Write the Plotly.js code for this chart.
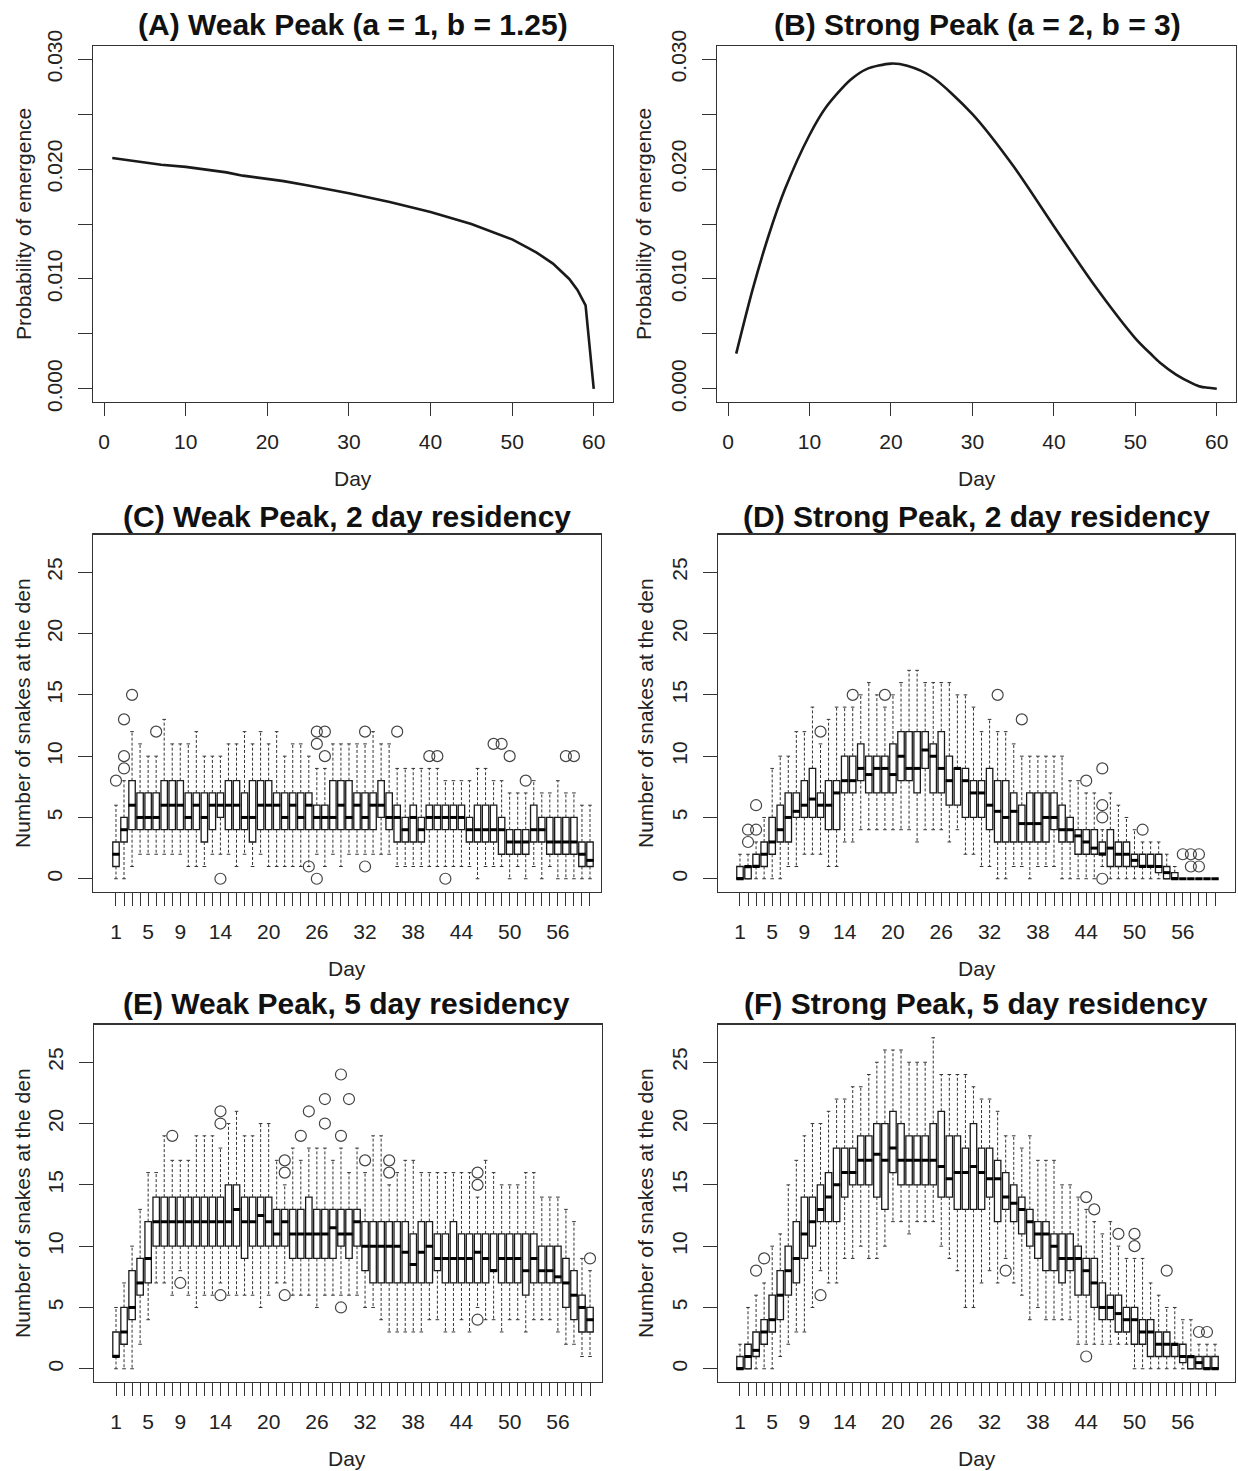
<!DOCTYPE html>
<html>
<head>
<meta charset="utf-8">
<script src="https://cdn.plot.ly/plotly-3.0.1.min.js"></script>
<style>html,body{margin:0;padding:0;background:#fff;}#chart{width:1238px;height:1471px;}</style>
</head>
<body>
<div id="chart"></div>
<script>
// ---------- Data ----------
const curveDays = [1,3,5,7,10,12,15,17,20,22,25,30,35,40,45,50,52,53,55,57,58,59,60];
const weakProb  = [0.0210,0.0208,0.0206,0.0204,0.0202,0.0200,0.0197,0.0194,0.0191,0.0189,0.0185,0.0178,0.0170,0.0161,0.0150,0.0136,0.0128,0.0124,0.0114,0.0100,0.0090,0.0076,0.0000];
const strongProb= [0.0032,0.0090,0.0140,0.0182,0.0231,0.0256,0.0281,0.0291,0.0296,0.0294,0.0284,0.0250,0.0203,0.0148,0.0094,0.0046,0.0031,0.0024,0.0013,0.0005,0.0002,0.0001,0.0000];

const days = [1,2,3,4,5,6,7,8,9,10,11,12,13,14,15,16,17,18,19,20,21,22,23,24,25,26,27,28,29,30,
              31,32,33,34,35,36,37,38,39,40,41,42,43,44,45,46,47,48,49,50,51,52,53,54,55,56,57,58,59,60];
const labeledDays = [1,5,9,14,20,26,32,38,44,50,56];

// (C) Weak Peak, 2 day residency
const cLo  = [0,0,1,2,2,2,2,2,2,1,1,1,2,2,2,1,2,1,2,1,1,1,1,1,1,2,1,2,1,2,2,2,2,2,2,1,1,1,1,1,1,1,1,1,1,0,1,1,1,0,1,0,1,0,1,0,0,0,0,0];
const cQ1  = [1,3,4,4,4,4,4,4,4,4,4,3,4,5,4,4,4,3,4,4,4,4,4,4,4,4,4,4,4,4,4,4,4,5,4,3,3,3,3,4,4,4,4,4,3,3,3,3,2,2,2,2,3,3,2,2,2,2,1,1];
const cMed = [2,4,6,5,5,5,6,6,6,5,6,5,6,6,6,6,5,5,6,6,6,5,6,5,6,5,5,5,6,5,6,5,6,6,5,5,4,5,4,5,5,5,5,5,4,4,4,4,4,3,3,3,4,4,3,3,3,3,2,1.5];
const cQ3  = [3,5,8,7,7,7,8,8,8,7,7,7,7,7,8,8,7,8,8,8,7,7,7,7,7,6,6,8,8,8,7,7,7,8,7,6,5,6,5,6,6,6,6,6,5,6,6,6,5,4,4,4,6,5,5,5,5,5,3,3];
const cHi  = [6,8,12,11,10,10,13,11,11,11,12,10,10,10,11,11,12,11,12,11,12,10,11,11,10,9,9,11,11,11,11,11,12,11,11,9,9,9,9,9,9,8,8,8,8,9,9,8,8,7,7,7,8,7,7,8,7,7,6,6];
const cOutDay = [1,2,2,2,3,6,14,25,26,26,26,27,27,32,32,36,40,41,42,48,49,50,52,57,58];
const cOutVal = [8,9,10,13,15,12,0,1,0,11,12,10,12,1,12,12,10,10,0,11,11,10,8,10,10];

// (D) Strong Peak, 2 day residency
const dLo  = [0,0,0,0,0,0,1,1,2,2,2,1,1,3,3,4,4,4,4,4,4,4,3,4,4,4,3,4,2,2,1,1,0,0,1,1,0,1,1,1,0,0,0,0,0,1,0,0,0,0,0,0,0,0,0,0,0,0,0,0];
const dQ1  = [0,0,1,1,2,3,3,5,5,5,5,4,4,7,7,8,7,7,7,7,8,8,7,9,7,7,6,6,5,5,5,4,3,3,3,3,3,3,3,4,3,3,2,2,2,2,1,1,1,1,1,1,0.5,0,0,0,0,0,0,0];
const dMed = [0,1,1,2,3,4,5,5.5,6,6.5,6,6,7,8,8,9,8.5,9,9,8.5,10,9,9,10.5,10,9,8,9,8,7,7,6,5.5,5,5.5,4.5,4.5,4.5,5,5,4,4,3.5,3,2.5,2,2.5,2,2,1.5,1,1,1,0.5,0,0,0,0,0,0];
const dQ3  = [1,1,2,3,5,6,7,7,8,9,7,8,8,10,10,11,10,10,10,11,12,12,12,12,11,12,10,9,9,8,8,9,8,8,7,6,7,7,7,7,6,5,4,4,4,3,4,3,3,2,2,2,2,1,0.5,0,0,0,0,0];
const dHi  = [2,2,3,5,9,10,10,12,12,14,11,13,14,14,14,15,16,15,14,15,16,17,17,16,16,16,16,15,15,14,12,13,12,12,11,10,10,10,10,10,10,8,8,7,7,4,7,6,5,4,3,3,3,2,1,0,0,0,0,0];
const dOutDay = [2,2,3,3,11,15,19,33,36,44,46,46,46,46,51,56,57,57,58,58];
const dOutVal = [3,4,4,6,12,15,15,15,13,8,0,5,6,9,4,2,1,2,1,2];

// (E) Weak Peak, 5 day residency
const eLo  = [0,0,0,2,4,7,7,6,8,6,5,6,6,7,6,6,6,6,5,6,7,7,6,6,6,5,6,6,6,6,6,5,5,4,3,3,3,3,3,4,4,3,3,4,3,5,4,4,3,4,4,3,4,4,4,3,2,2,1,1];
const eQ1  = [1,2,4,6,7,10,10,10,10,10,10,10,10,10,10,10,9,10,10,10,10,10,9,9,9,9,9,9,10,9,10,8,7,7,7,7,7,7,7,7,8,7,7,7,7,7,7,8,7,7,7,6,7,7,7,7,5,4,3,3];
const eMed = [1,3,5,7,9,12,12,12,12,12,12,12,12,12,12,13,12,12,12.5,12,11,12,11,11,11,11,11,11.5,11,11,12,10,10,10,10,10,9.5,8.5,9.5,10,9,9,9,9,9,9.5,9,8,9,9,9,8,9,8,8,7.5,7,6,5,4];
const eQ3  = [3,5,8,9,12,14,14,14,14,14,14,14,14,14,15,15,14,14,14,14,13,13,13,13,14,13,13,13,13,13,13,12,12,12,12,12,12,11,12,12,11,11,12,11,11,11,11,11,11,11,11,11,11,10,10,10,9,8,6,5];
const eHi  = [5,7,10,13,16,16,19,17,17,17,19,19,19,18,20,21,19,19,20,20,17,15,18,17,18,18,18,17,18,16,18,16,19,19,15,16,17,17,16,16,16,16,16,16,16,14,17,16,15,15,15,16,16,14,14,14,13,12,9,8];
const eOutDay = [8,9,14,14,14,22,22,22,24,25,27,27,29,29,29,30,32,35,35,46,46,46,60];
const eOutVal = [19,7,6,20,21,6,16,17,19,21,20,22,5,19,24,22,17,16,17,4,15,16,9];

// (F) Strong Peak, 5 day residency
const fLo  = [0,0,0,0,0,1,2,3,3,5,8,7,7,9,9,10,9,9,10,12,12,11,12,12,12,10,9,8,5,5,7,8,7,9,7,6,4,5,4,4,4,4,2,2,2,2,2,2,2,0,0,0,0,0,0,0,0,0,0,0];
const fQ1  = [0,0,1,2,3,4,6,7,9,10,12,12,12,14,15,15,15,14,13,16,15,15,15,15,15,14,14,13,13,13,13,14,12,13,12,11,10,9,8,8,7,8,6,6,5,4,4,3,3,2,2,1,1,1,1,0.5,0,0,0,0];
const fMed = [0,1,1.5,3,4,6,8,9,11,12,13,14,15,16,16,17,17,17.5,17,18,17,17,17,17,17,16.5,15.5,16,16,16.5,16,15.5,15.5,14,13.5,13,12,11,11,10,9,9,9,8,7,5,5,4.5,4,4,3,3,2,2,2,1,1,0.5,0,0];
const fQ3  = [1,2,3,4,6,8,10,12,14,14,15,16,18,18,18,19,19,20,20,21,20,19,19,19,20,21,19,19,18,20,18,18,17,16,15,14,13,12,12,11,11,11,10,9,9,7,6,6,5,5,4,4,3,3,2,2,1,1,1,1];
const fHi  = [2,5,6,7,10,11,15,17,19,20,20,21,22,22,23,23,24,25,26,26,26,25,25,25,27,24,24,24,24,23,22,22,21,19,19,18,19,17,17,17,15,15,14,13,12,11,12,10,9,9,9,7,6,5,5,4,4,2,2,2];
const fOutDay = [3,4,11,34,44,44,45,48,50,50,54,58,59];
const fOutVal = [8,9,6,8,1,14,13,11,10,11,8,3,3];

// ---------- Build ----------
const W = 1238, H = 1471;
const px = v => v / W;
const py = v => 1 - v / H;
const INK = '#1a1a1a';
const FONT = 'Liberation Sans, Arial, Helvetica, sans-serif';

const traces = [];

function lineTrace(xs, ys, n, shape) {
  traces.push({
    type: 'scatter', mode: 'lines', x: xs, y: ys,
    xaxis: 'x' + (n === 1 ? '' : n), yaxis: 'y' + (n === 1 ? '' : n),
    line: {color: INK, width: 2.6, shape: shape, smoothing: 0.8},
    hoverinfo: 'skip'
  });
}

function boxPanel(n, lo, q1, med, q3, hi, outDay, outVal) {
  const xa = 'x' + n, ya = 'y' + n;
  const wx = [], wy = [];
  days.forEach((d, i) => {
    wx.push(d, d, null, d, d, null);
    wy.push(q3[i], hi[i], null, q1[i], lo[i], null);
  });
  traces.push({type: 'scatter', mode: 'lines', x: wx, y: wy, xaxis: xa, yaxis: ya,
    line: {color: '#333', width: 1, dash: '3px,2px'}, hoverinfo: 'skip', connectgaps: false});
  traces.push({type: 'scatter', mode: 'markers', x: days.concat(days), y: hi.concat(lo), xaxis: xa, yaxis: ya,
    marker: {symbol: 'line-ew', size: 2.6, line: {width: 1, color: '#333'}}, hoverinfo: 'skip'});
  traces.push({type: 'box', x: days, q1: q1, median: med, q3: q3, lowerfence: q1, upperfence: q3,
    xaxis: xa, yaxis: ya, width: 0.8, fillcolor: '#ffffff', line: {color: INK, width: 1.3},
    boxpoints: false, whiskerwidth: 0, hoverinfo: 'skip'});
  traces.push({type: 'scatter', mode: 'markers', x: days, y: med, xaxis: xa, yaxis: ya,
    marker: {symbol: 'line-ew', size: 5.2, line: {width: 3, color: '#000'}}, hoverinfo: 'skip'});
  traces.push({type: 'scatter', mode: 'markers', x: outDay, y: outVal, xaxis: xa, yaxis: ya,
    marker: {symbol: 'circle-open', size: 11, color: '#444', line: {width: 1.2, color: '#444'}}, hoverinfo: 'skip'});
}

lineTrace(curveDays, weakProb, 1, 'linear');
lineTrace(curveDays, strongProb, 2, 'spline');
boxPanel(3, cLo, cQ1, cMed, cQ3, cHi, cOutDay, cOutVal);
boxPanel(4, dLo, dQ1, dMed, dQ3, dHi, dOutDay, dOutVal);
boxPanel(5, eLo, eQ1, eMed, eQ3, eHi, eOutDay, eOutVal);
boxPanel(6, fLo, fQ1, fMed, fQ3, fHi, fOutDay, fOutVal);

const tickFont = {family: FONT, size: 21, color: '#222'};
function xAxis(dom, range, anchor, tickvals, ticktext) {
  return {domain: dom, range: range, anchor: anchor, showgrid: false, zeroline: false,
    showline: true, mirror: true, linecolor: '#333', linewidth: 1.2,
    ticks: 'outside', ticklen: 13, tickwidth: 1, tickcolor: '#333',
    tickmode: 'array', tickvals: tickvals, ticktext: ticktext, tickfont: tickFont,
    ticklabelstandoff: 8, fixedrange: true};
}
function yAxis(dom, range, anchor, tickvals, ticktext) {
  return {domain: dom, range: range, anchor: anchor, showgrid: false, zeroline: false,
    showline: true, mirror: true, linecolor: '#333', linewidth: 1.2,
    ticks: 'outside', ticklen: 14, tickwidth: 1, tickcolor: '#333',
    tickmode: 'array', tickvals: tickvals, ticktext: ticktext, tickfont: tickFont,
    tickangle: -90, ticklabelstandoff: 7, fixedrange: true};
}

const probTicks = [0, 0.005, 0.010, 0.015, 0.020, 0.025, 0.030];
const probText = ['0.000', '', '0.010', '', '0.020', '', '0.030'];
const dayTicks = [0, 10, 20, 30, 40, 50, 60];
const dayText = dayTicks.map(String);
const boxXText = days.map(d => labeledDays.includes(d) ? String(d) : '');
const countTicks = [0, 5, 10, 15, 20, 25];
const countText = countTicks.map(String);

const rowA = [py(402), py(46)];
const rowC = [py(892), py(534.5)];
const rowE = [py(1382), py(1024.5)];
const colL1 = [px(93), px(613)];
const colR1 = [px(717), px(1236)];
const colL2 = [px(93), px(601)];
const colR2 = [px(718), px(1235)];

const layout = {
  width: W, height: H, margin: {l: 0, r: 0, t: 0, b: 0},
  paper_bgcolor: '#fff', plot_bgcolor: '#fff', showlegend: false,
  font: {family: FONT, color: '#222'},
  xaxis:  xAxis(colL1, [-1.36, 62.36], 'y', dayTicks, dayText),
  yaxis:  yAxis(rowA, [-0.0012, 0.0312], 'x', probTicks, probText),
  xaxis2: xAxis(colR1, [-1.36, 62.36], 'y2', dayTicks, dayText),
  yaxis2: yAxis(rowA, [-0.0012, 0.0312], 'x2', probTicks, probText),
  xaxis3: xAxis(colL2, [-1.86, 61.37], 'y3', days, boxXText),
  yaxis3: yAxis(rowC, [-1.08, 28.08], 'x3', countTicks, countText),
  xaxis4: xAxis(colR2, [-1.73, 62.48], 'y4', days, boxXText),
  yaxis4: yAxis(rowC, [-1.08, 28.08], 'x4', countTicks, countText),
  xaxis5: xAxis([px(94), px(602)], [-1.74, 61.49], 'y5', days, boxXText),
  yaxis5: yAxis(rowE, [-1.08, 28.08], 'x5', countTicks, countText),
  xaxis6: xAxis(colR2, [-1.73, 62.48], 'y6', days, boxXText),
  yaxis6: yAxis(rowE, [-1.08, 28.08], 'x6', countTicks, countText),
  annotations: []
};

function ann(text, x, y, opts) {
  layout.annotations.push(Object.assign({text: text, x: px(x), y: py(y), xref: 'paper', yref: 'paper',
    showarrow: false, xanchor: 'center', yanchor: 'middle',
    font: {family: FONT, size: 21, color: '#222'}}, opts || {}));
}
const titleFont = {family: FONT, size: 30, color: '#111'};
ann('<b>(A) Weak Peak (a = 1, b = 1.25)</b>', 353, 24, {font: titleFont});
ann('<b>(B) Strong Peak (a = 2, b = 3)</b>', 977, 24, {font: titleFont});
ann('<b>(C) Weak Peak, 2 day residency</b>', 347, 516, {font: titleFont});
ann('<b>(D) Strong Peak, 2 day residency</b>', 976, 516, {font: titleFont});
ann('<b>(E) Weak Peak, 5 day residency</b>', 347, 1003, {font: titleFont});
ann('<b>(F) Strong Peak, 5 day residency</b>', 976, 1003, {font: titleFont});

ann('Day', 353, 478); ann('Day', 977, 478);
ann('Day', 347, 968); ann('Day', 977, 968);
ann('Day', 347, 1458); ann('Day', 977, 1458);

ann('Probability of emergence', 24, 224, {textangle: -90});
ann('Probability of emergence', 644, 224, {textangle: -90});
ann('Number of snakes at the den', 22, 713, {textangle: -90});
ann('Number of snakes at the den', 645, 713, {textangle: -90});
ann('Number of snakes at the den', 22, 1203, {textangle: -90});
ann('Number of snakes at the den', 645, 1203, {textangle: -90});

Plotly.newPlot('chart', traces, layout, {staticPlot: true, displayModeBar: false});
</script>
</body>
</html>
